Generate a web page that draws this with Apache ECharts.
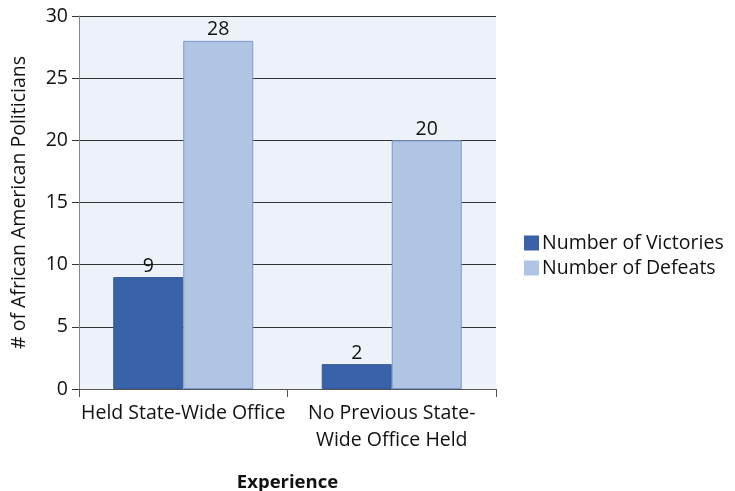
<!DOCTYPE html>
<html>
<head>
<meta charset="utf-8">
<script src="https://cdn.jsdelivr.net/npm/echarts@6/dist/echarts.min.js"></script>
<style>
  html, body { margin: 0; padding: 0; background: #ffffff; }
  #chart { width: 735px; height: 491px; }
</style>
</head>
<body>
<div id="chart"></div>
<script>
// Outcome of races by prior experience
const categories = ['Held State-Wide Office', 'No Previous State-\nWide Office Held'];
const victories = [9, 2];
const defeats = [28, 20];
const seriesNames = ['Number of Victories', 'Number of Defeats'];
const yTicks = { min: 0, max: 30, interval: 5 };

const FONT = '"Open Sans", "Noto Sans", sans-serif';
const FS = 19.5;
const chart = echarts.init(document.getElementById('chart'));

chart.setOption({
  animation: false,
  textStyle: { fontFamily: FONT, color: '#111' },
  grid: {
    left: 79, right: 239, top: 16, bottom: 102,
    outerBoundsMode: 'none',
    containLabel: false,
    show: true, backgroundColor: '#edf1fa', borderWidth: 0
  },
  legend: {
    orient: 'vertical',
    left: 519, top: 228,
    itemWidth: 15, itemHeight: 15, itemGap: 5,
    icon: 'rect',
    itemStyle: { borderWidth: 0 },
    textStyle: { fontSize: FS, fontFamily: FONT, color: '#111', padding: [0, 0, 0, -2] },
    data: seriesNames
  },
  xAxis: {
    type: 'category',
    data: categories,
    name: 'Experience',
    nameLocation: 'middle',
    nameGap: 84,
    nameTextStyle: { fontSize: 18.5, fontWeight: 'bold', fontFamily: FONT, color: '#111' },
    axisLine: { show: true, lineStyle: { color: '#555', width: 1 } },
    axisTick: { show: true, alignWithLabel: false, length: 8, lineStyle: { color: '#555' } },
    axisLabel: { fontSize: FS, color: '#111', lineHeight: 27, margin: 11, interval: 0 },
    splitLine: { show: false }
  },
  yAxis: {
    type: 'value',
    min: yTicks.min, max: yTicks.max, interval: yTicks.interval,
    name: '# of African American Politicians',
    nameLocation: 'middle',
    nameGap: 50,
    nameTextStyle: { fontSize: FS, fontFamily: FONT, color: '#111' },
    axisLine: { show: true, lineStyle: { color: '#888', width: 1 } },
    axisTick: { show: true, length: 7, inside: false, lineStyle: { color: '#333' } },
    axisLabel: { fontSize: FS, color: '#111', margin: 11 },
    splitLine: { show: true, lineStyle: { color: '#333', width: 1 } }
  },
  series: [
    {
      name: seriesNames[0],
      type: 'bar',
      data: victories,
      barWidth: 70,
      barGap: '0%',
      itemStyle: { color: '#3a62a8', borderColor: '#34589a', borderWidth: 1 },
      label: { show: true, position: 'top', fontSize: FS, color: '#111', distance: 1 }
    },
    {
      name: seriesNames[1],
      type: 'bar',
      data: defeats,
      barWidth: 70,
      barGap: '0%',
      itemStyle: { color: '#b0c4e4', borderColor: '#7b98cb', borderWidth: 1 },
      label: { show: true, position: 'top', fontSize: FS, color: '#111', distance: 1 }
    }
  ]
});
</script>
</body>
</html>
